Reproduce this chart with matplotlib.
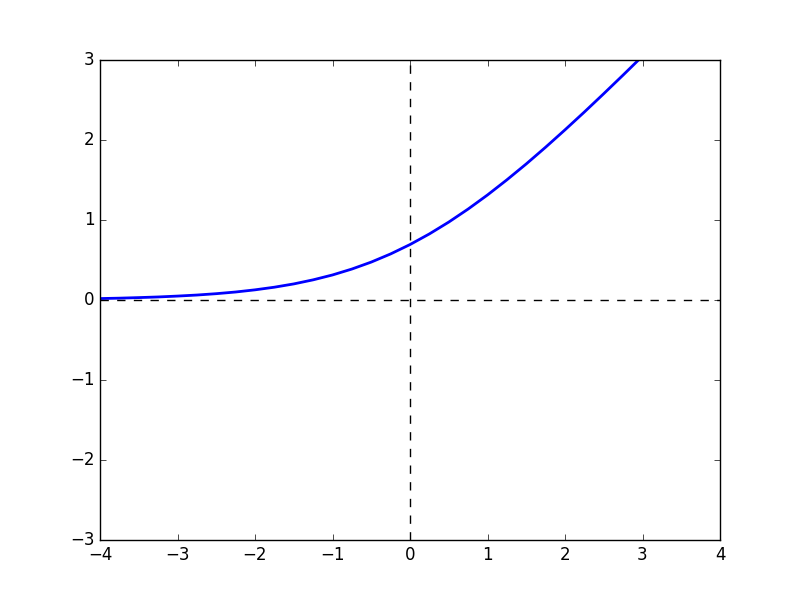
import matplotlib
matplotlib.use("Agg")
import matplotlib.pyplot as plt

# values
x_vals = [-4.0, -3.75, -3.5, -3.25, -3.0, -2.75, -2.5, -2.25, -2.0, -1.75, -1.5,
          -1.25, -1.0, -0.75, -0.5, -0.25, 0.0, 0.25, 0.5, 0.75, 1.0, 1.25,
          1.5, 1.75, 2.0, 2.25, 2.5, 2.75, 3.0]
y_vals = [0.018, 0.023, 0.030, 0.038, 0.049, 0.062, 0.079, 0.100, 0.127, 0.160, 0.201,
          0.252, 0.313, 0.387, 0.474, 0.576, 0.693, 0.826, 0.974, 1.137, 1.313, 1.502,
          1.701, 1.910, 2.127, 2.350, 2.579, 2.812, 3.049]

x_ticks = [-4, -3, -2, -1, 0, 1, 2, 3, 4]
y_ticks = [-3, -2, -1, 0, 1, 2, 3]

plt.style.use("classic")

fig, ax = plt.subplots(figsize=(8, 6), dpi=100)
fig.patch.set_facecolor("white")

ax.plot(x_vals, y_vals, color="blue", linewidth=2)
ax.axhline(0, color="black", linestyle="--", linewidth=1)
ax.axvline(0, color="black", linestyle="--", linewidth=1)

ax.set_xlim(-4, 4)
ax.set_ylim(-3, 3)
ax.set_xticks(x_ticks)
ax.set_yticks(y_ticks)

fig.savefig("out.png", dpi=100, facecolor="white")
